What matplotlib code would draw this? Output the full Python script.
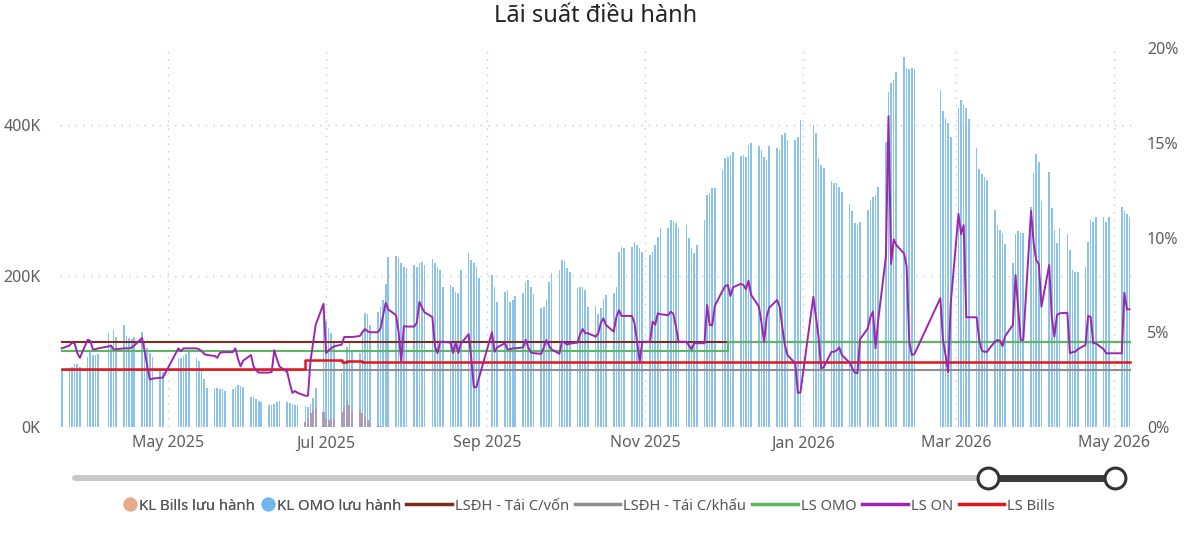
import matplotlib.pyplot as plt
import matplotlib.dates as mdates
from matplotlib.lines import Line2D
import pandas as pd

plt.rcParams['font.family'] = ['Noto Sans', 'DejaVu Sans']

# ngay giao dich, bo ngay nghi le
holidays = ['2025-04-07', '2025-04-30', '2025-05-01', '2025-05-02', '2025-09-01', '2025-09-02',
            '2026-01-01', '2026-01-02', '2026-02-16', '2026-02-17', '2026-02-18', '2026-02-19',
            '2026-02-20', '2026-04-30', '2026-05-01']
days = pd.bdate_range('2025-03-21', '2026-05-07')
days = days[~days.isin(pd.to_datetime(holidays))]

# KL OMO luu hanh (nghin ty), moi dong la mot tuan
kl_omo_weeks = [
    [75],
    [78, 80, 84, 83, 80],
    [93, 100, 95, 95, 97],
    [124, 109, 128, 119],
    [135, 120, 118, 117, 119],
    [126, 112, 104, 98, 93],
    [75, 73],
    [91, 92, 94, 97, 100],
    [91, 88, 75, 64, 52],
    [52, 51, 50, 50, 48],
    [50, 53, 55, 54, 53],
    [40, 40, 37, 35, 33],
    [29, 29, 30, 33, 35],
    [33, 32, 31, 29, 29],
    [28, 26, 31, 38, 52],
    [146, 140, 131, 124, 112],
    [71, 85, 106, 111, 102],
    [98, 128, 151, 150, 135],
    [152, 159, 168, 190, 225],
    [226, 224, 217, 212, 210],
    [214, 212, 217, 219, 215],
    [222, 217, 212, 208, 186],
    [188, 186, 179, 178, 208],
    [230, 221, 217, 212, 197],
    [201, 185, 166],
    [179, 181, 166, 168, 173],
    [177, 192, 195, 186, 176],
    [158, 159, 168, 192, 204],
    [208, 221, 220, 210, 205],
    [184, 186, 185, 181, 159],
    [160, 150, 158, 170, 175],
    [177, 185, 232, 238, 237],
    [238, 245, 241, 237, 232],
    [228, 232, 241, 252, 264],
    [264, 274, 273, 270, 264],
    [267, 250, 237, 230, 241],
    [274, 307, 310, 317, 317],
    [340, 356, 358, 360, 364],
    [359, 360, 358, 373, 376],
    [372, 367, 358, 354, 372],
    [369, 367, 387, 389, 380],
    [380, 384, 407],
    [400, 389, 356, 347, 343],
    [326, 323, 323, 318, 311],
    [295, 286, 270, 268, 272],
    [287, 301, 305, 307, 318],
    [377, 444, 456, 460, 470],
    [490, 475, 474, 475, 474],
    [446, 419, 409, 403, 384],
    [422, 433, 426, 422, 408],
    [369, 342, 335, 331, 327],
    [287, 268, 261, 257, 242],
    [217, 256, 260, 257, 257],
    [291, 336, 362, 351, 300],
    [338, 290, 261, 244, 264],
    [256, 234, 208, 205, 205],
    [212, 245, 274, 272, 278],
    [278, 272, 278],
    [291, 286, 282, 278],
]

# LS ON (%), cung cau truc tuan
ls_on_weeks = [
    [4.15],
    [4.3, 4.45, 4.4, 3.9, 3.65],
    [4.6, 4.55, 4.1, 4.1, 4.15],
    [4.25, 4.3, 4.1, 4.1],
    [4.15, 4.15, 4.15, 4.2, 4.3],
    [4.7, 4.0, 3.2, 2.5, 2.55],
    [2.6, 2.6],
    [4.15, 4.0, 4.15, 4.15, 4.15],
    [4.15, 4.1, 4.0, 3.85, 3.8],
    [3.75, 3.65, 3.9, 3.95, 3.95],
    [3.95, 4.15, 3.6, 3.2, 3.5],
    [3.8, 3.2, 3.0, 2.87, 2.87],
    [2.87, 2.9, 4.05, 3.6, 3.2],
    [2.9, 2.3, 1.8, 1.9, 1.8],
    [1.65, 1.65, 3.5, 4.45, 5.4],
    [6.5, 3.9, 4.05, 4.15, 4.25],
    [4.35, 4.75, 4.75, 4.75, 4.75],
    [4.8, 5.0, 5.17, 5.05, 5.0],
    [5.0, 5.2, 5.9, 6.55, 6.2],
    [5.9, 5.0, 3.45, 5.33, 5.3],
    [5.3, 5.5, 6.6, 6.3, 6.05],
    [5.8, 4.25, 3.9, 4.5, 4.5],
    [4.45, 3.9, 4.45, 3.9, 4.4],
    [4.9, 3.65, 2.1, 2.1, 2.6],
    [5.0, 3.97, 4.2],
    [4.42, 4.1, 4.1, 4.15, 4.15],
    [4.2, 4.6, 4.2, 3.93, 3.9],
    [3.86, 4.2, 4.59, 4.3, 4.1],
    [3.86, 4.51, 4.45, 4.35, 4.4],
    [4.45, 4.9, 5.17, 4.95, 4.95],
    [4.77, 4.94, 5.5, 5.73, 5.38],
    [5.03, 5.8, 6.17, 5.86, 5.86],
    [5.86, 5.47, 4.5, 3.45, 4.5],
    [4.5, 5.56, 5.4, 6.0, 5.95],
    [5.9, 6.09, 5.95, 5.3, 4.5],
    [4.5, 4.3, 4.1, 4.42, 4.42],
    [4.42, 6.44, 5.38, 5.38, 6.4],
    [7.2, 7.44, 7.49, 6.91, 7.37],
    [7.55, 7.5, 7.27, 7.72, 6.97],
    [6.35, 5.5, 4.5, 5.82, 6.3],
    [6.7, 6.35, 5.3, 4.33, 3.8],
    [3.36, 1.81, 1.81],
    [6.88, 5.8, 4.77, 3.1, 3.15],
    [3.97, 3.97, 4.05, 4.2, 3.8],
    [3.39, 3.1, 2.87, 2.83, 4.63],
    [5.2, 5.8, 6.09, 4.15, 5.61],
    [9.0, 16.4, 8.6, 9.9, 9.6],
    [9.16, 8.46, 4.5, 3.8, 3.85],
    [6.8, 4.6, 3.8, 2.9, 6.5],
    [11.24, 10.18, 10.66, 5.79, 5.79],
    [5.79, 4.59, 4.03, 3.97, 3.97],
    [4.5, 4.59, 4.55, 4.27, 4.8],
    [5.38, 8.02, 6.3, 4.59, 4.6],
    [11.4, 9.7, 8.8, 8.6, 6.35],
    [8.55, 5.8, 4.77, 5.91, 6.0],
    [6.03, 3.89, 3.95, 3.97, 4.1],
    [4.33, 5.86, 5.8, 4.42, 4.42],
    [4.1, 3.89, 3.89],
    [3.89, 7.09, 6.21, 6.21],
]

kl_omo = [v for w in kl_omo_weeks for v in w]
ls_on = [v for w in ls_on_weeks for v in w]

# KL Bills luu hanh (nghin ty), tu 23/6 den 22/7/2025
bills_days = days[(days >= '2025-06-23') & (days <= '2025-07-22')]
kl_bills = [6, 12, 18, 22, 25, 20, 10, 9, 10, 12, 20, 27, 33, 29, 20, 22, 18, 14, 9, 5, 3, 1]

# cac lai suat dieu hanh (bac thang)
rate_dates = ['2025-03-21', '2026-05-07']
ls_tai_cap_von = [4.5, 4.5]
ls_tai_chiet_khau = [3.0, 3.0]
ls_omo_dates = ['2025-03-21', '2025-12-03', '2026-05-07']
ls_omo = [4.0, 4.5, 4.5]
ls_bills_dates = ['2025-03-21', '2025-06-23', '2025-07-07', '2025-07-09', '2025-07-15', '2026-05-07']
ls_bills = [3.08, 3.55, 3.45, 3.5, 3.42, 3.42]

c_bills_bar = '#E8A98B'
c_omo_bar = '#8CC3EA'
c_von = '#7A2E1E'
c_khau = '#8E8E8E'
c_omo = '#5DB761'
c_on = '#9B27AF'
c_bills = '#E3161B'
txt = '#605E5C'

fig = plt.figure(figsize=(12, 5.37), dpi=100)
ax = fig.add_axes([60 / 1200, 110 / 537, 1073 / 1200, 379 / 537])
ax2 = ax.twinx()

ax.bar(days, kl_omo, width=0.62, color=c_omo_bar, zorder=2)
ax.bar(bills_days, kl_bills, width=0.8, color='#A99DBA', zorder=3)

ax2.plot(pd.to_datetime(rate_dates), ls_tai_cap_von, color=c_von, lw=1.5)
ax2.plot(pd.to_datetime(rate_dates), ls_tai_chiet_khau, color=c_khau, lw=1.5)
ax2.plot(pd.to_datetime(ls_omo_dates), ls_omo, color=c_omo, lw=1.5, drawstyle='steps-post')
ax2.plot(pd.to_datetime(ls_bills_dates), ls_bills, color=c_bills, lw=1.8, drawstyle='steps-post')
ax2.plot(days, ls_on, color=c_on, lw=1.4)

ax.set_xlim(pd.Timestamp('2025-03-20 08:00'), pd.Timestamp('2026-05-08 08:00'))
ax.set_ylim(0, 502)
ax2.set_ylim(0, 20)
ax.set_yticks([0, 200, 400])
ax.set_yticklabels(['0K', '200K', '400K'])
ax2.set_yticks([0, 5, 10, 15, 20])
ax2.set_yticklabels(['0%', '5%', '10%', '15%', '20%'])

ax.xaxis.set_major_locator(mdates.MonthLocator(bymonth=[1, 3, 5, 7, 9, 11]))
ax.xaxis.set_major_formatter(mdates.DateFormatter('%b %Y'))

for a in (ax, ax2):
    for s in a.spines.values():
        s.set_visible(False)
    a.tick_params(length=0, labelsize=11.5, labelcolor=txt)
ax.tick_params(axis='y', pad=14)
ax.tick_params(axis='x', pad=6)
ax2.tick_params(axis='y', pad=10)

ax.grid(True, color='#C8C8C8', lw=1, linestyle=(0, (1, 4.5)), zorder=0)
ax.set_axisbelow(True)

fig.text(0.496, 1 - 16 / 537, 'Lãi suất điều hành', ha='center', va='center',
         fontsize=17, color='#252423')

# thanh truot thoi gian
sy = 1 - 478 / 537
fig.add_artist(Line2D([75 / 1200, 988 / 1200], [sy, sy], color='#C8C8C8', lw=4.3, solid_capstyle='round'))
fig.add_artist(Line2D([988 / 1200, 1115 / 1200], [sy, sy], color='#3A3A3A', lw=5))
fig.add_artist(Line2D([988 / 1200, 1115 / 1200], [sy, sy], ls='none', marker='o', ms=15,
                      mfc='white', mec='#333333', mew=2.2))

# chu thich
ly = 1 - 506 / 537
h1 = [Line2D([], [], ls='none', marker='o', ms=9, color=c_bills_bar),
      Line2D([], [], ls='none', marker='o', ms=9, color='#71B7EE')]
leg1 = fig.legend(h1, ['KL Bills lưu hành', 'KL OMO lưu hành'], loc='center right',
                  bbox_to_anchor=(401 / 1200, ly), ncol=2, frameon=False, fontsize=10.7,
                  handlelength=0.8, handletextpad=0.2, columnspacing=0.45,
                  borderpad=0, borderaxespad=0, labelcolor='#555555')
h2 = [Line2D([], [], color=c, lw=2.5) for c in (c_von, c_khau, c_omo, c_on, c_bills)]
fig.legend(h2, ['LSĐH - Tái C/vốn', 'LSĐH - Tái C/khấu', 'LS OMO', 'LS ON', 'LS Bills'],
           loc='center left', bbox_to_anchor=(406 / 1200, ly), ncol=5, frameon=False,
           fontsize=10.6, handlelength=3.1, handletextpad=0.2, columnspacing=0.4,
           borderpad=0, borderaxespad=0, labelcolor='#555555')
fig.add_artist(leg1)

fig.savefig('out.png', dpi=100)
